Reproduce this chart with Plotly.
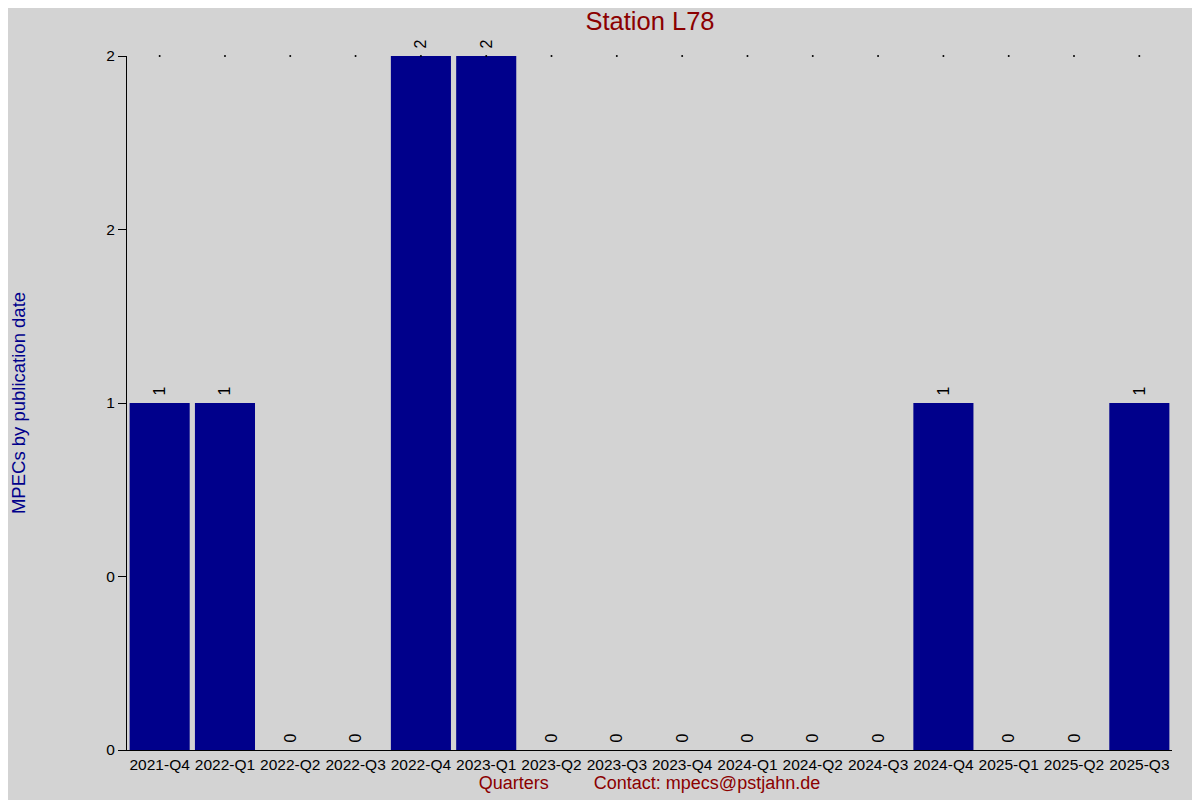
import plotly.graph_objects as go

# MPECs per quarter for station L78
quarters = [
    '2021-Q4', '2022-Q1', '2022-Q2', '2022-Q3', '2022-Q4', '2023-Q1',
    '2023-Q2', '2023-Q3', '2023-Q4', '2024-Q1', '2024-Q2', '2024-Q3',
    '2024-Q4', '2025-Q1', '2025-Q2', '2025-Q3',
]
mpec_counts = [1, 1, 0, 0, 2, 2, 0, 0, 0, 0, 0, 0, 1, 0, 0, 1]

y_tick_vals = [0, 0.5, 1, 1.5, 2]
y_tick_text = ['0', '0', '1', '2', '2']

title = 'Station L78'
x_title = 'Quarters' + '\u00a0' * 9 + 'Contact: mpecs@pstjahn.de'
y_title = 'MPECs by publication date'

fig = go.Figure()
fig.add_trace(
    go.Bar(
        x=quarters,
        y=mpec_counts,
        marker=dict(color='#00008b', line=dict(width=0)),
        # leading space keeps the rotated label a little off the bar top
        text=['\u00a0' + str(v) for v in mpec_counts],
        textposition='outside',
        textangle=-90,
        textfont=dict(color='black', size=16),
        cliponaxis=False,
    )
)
# small marker dots along the top of the plot
fig.add_trace(
    go.Scatter(
        x=quarters,
        y=[max(mpec_counts)] * len(quarters),
        mode='markers',
        marker=dict(color='black', size=2),
        cliponaxis=False,
        hoverinfo='skip',
    )
)
# page body adds an 8px offset, so the figure is shrunk by that much
fig.update_layout(
    width=1192,
    height=792,
    showlegend=False,
    paper_bgcolor='#d3d3d3',
    plot_bgcolor='#d3d3d3',
    font=dict(family='Liberation Sans, Arial, sans-serif', color='black', size=15.5),
    bargap=0.08,
    margin=dict(l=119, r=28, t=48, b=50, autoexpand=False),
    title=dict(
        text=title,
        x=(650 - 8) / 1192,
        xanchor='center',
        y=1 - (21 - 8) / 792,
        yanchor='middle',
        font=dict(size=25.5, color='#8b0000'),
    ),
    xaxis=dict(
        range=[-0.5, len(quarters) - 0.5],
        showgrid=False,
        showline=True,
        linecolor='black',
        linewidth=1,
        ticks='',
        tickfont=dict(size=15.5, color='black'),
        title=dict(text=x_title, font=dict(size=18, color='#8b0000'), standoff=2),
        zeroline=False,
    ),
    yaxis=dict(
        range=[0, 2],
        tickvals=y_tick_vals,
        ticktext=y_tick_text,
        showgrid=False,
        showline=True,
        linecolor='black',
        linewidth=1,
        ticks='outside',
        ticklen=8,
        tickcolor='black',
        tickfont=dict(size=15.5, color='black'),
        zeroline=False,
        title=dict(text=y_title, font=dict(size=18.5, color='#00008b'), standoff=95),
    ),
)

fig.write_html('out.html')
